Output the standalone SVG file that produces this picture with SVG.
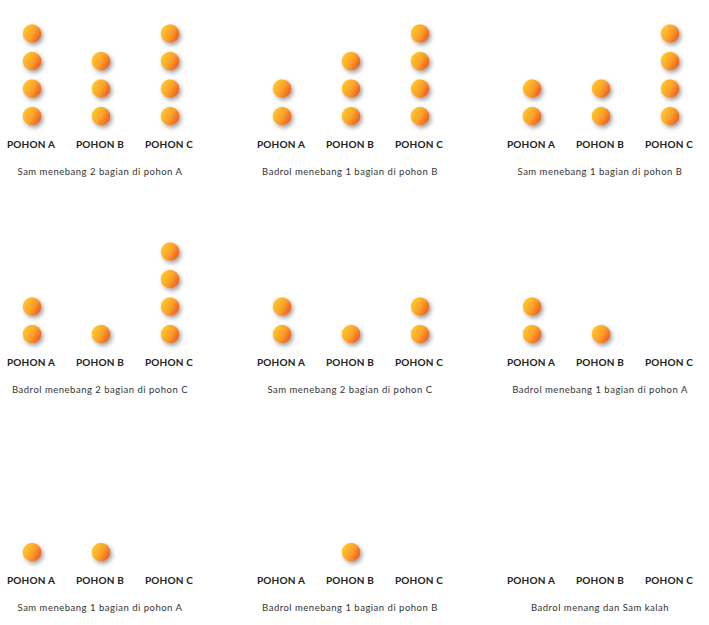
<svg xmlns="http://www.w3.org/2000/svg" xmlns:xlink="http://www.w3.org/1999/xlink" width="709" height="625" viewBox="0 0 709 625">
<defs>
<linearGradient id="g" x1="0.1" y1="0.25" x2="1" y2="0.75">
<stop offset="0" stop-color="#FFC62C"/>
<stop offset="0.5" stop-color="#FBA02A"/>
<stop offset="1" stop-color="#EE561F"/>
</linearGradient>
<filter id="sh" x="-50%" y="-50%" width="220%" height="220%">
<feDropShadow dx="2" dy="2.5" stdDeviation="2" flood-color="#555" flood-opacity="0.55"/>
</filter>
<circle id="b" r="9.3" fill="url(#g)" filter="url(#sh)"/>
<g id="labels">
<text class="lb" x="31" y="148">POHON A</text>
<text class="lb" x="100" y="148">POHON B</text>
<text class="lb" x="169" y="148">POHON C</text>
</g>
</defs>
<style>
.lb{font-family:"Lato","Liberation Sans",sans-serif;font-weight:700;font-size:10px;letter-spacing:0.2px;fill:#222;text-anchor:middle}
.cp{font-family:"Lato","Liberation Sans",sans-serif;font-size:9.5px;letter-spacing:0.5px;fill:#333;text-anchor:middle}
</style>
<rect width="709" height="625" fill="#fff"/>

<g id="panel1">
<use href="#b" x="32" y="33.5"/><use href="#b" x="32" y="61"/><use href="#b" x="32" y="88.5"/><use href="#b" x="32" y="116"/>
<use href="#b" x="101" y="61"/><use href="#b" x="101" y="88.5"/><use href="#b" x="101" y="116"/>
<use href="#b" x="170" y="33.5"/><use href="#b" x="170" y="61"/><use href="#b" x="170" y="88.5"/><use href="#b" x="170" y="116"/>
<use href="#labels"/>
<text class="cp" x="100" y="175">Sam menebang 2 bagian di pohon A</text>
</g>

<g id="panel2" transform="translate(250,0)">
<use href="#b" x="32" y="88.5"/><use href="#b" x="32" y="116"/>
<use href="#b" x="101" y="61"/><use href="#b" x="101" y="88.5"/><use href="#b" x="101" y="116"/>
<use href="#b" x="170" y="33.5"/><use href="#b" x="170" y="61"/><use href="#b" x="170" y="88.5"/><use href="#b" x="170" y="116"/>
<use href="#labels"/>
<text class="cp" x="100" y="175">Badrol menebang 1 bagian di pohon B</text>
</g>

<g id="panel3" transform="translate(500,0)">
<use href="#b" x="32" y="88.5"/><use href="#b" x="32" y="116"/>
<use href="#b" x="101" y="88.5"/><use href="#b" x="101" y="116"/>
<use href="#b" x="170" y="33.5"/><use href="#b" x="170" y="61"/><use href="#b" x="170" y="88.5"/><use href="#b" x="170" y="116"/>
<use href="#labels"/>
<text class="cp" x="100" y="175">Sam menebang 1 bagian di pohon B</text>
</g>

<g id="panel4" transform="translate(0,218)">
<use href="#b" x="32" y="88.5"/><use href="#b" x="32" y="116"/>
<use href="#b" x="101" y="116"/>
<use href="#b" x="170" y="33.5"/><use href="#b" x="170" y="61"/><use href="#b" x="170" y="88.5"/><use href="#b" x="170" y="116"/>
<use href="#labels"/>
<text class="cp" x="100" y="175">Badrol menebang 2 bagian di pohon C</text>
</g>

<g id="panel5" transform="translate(250,218)">
<use href="#b" x="32" y="88.5"/><use href="#b" x="32" y="116"/>
<use href="#b" x="101" y="116"/>
<use href="#b" x="170" y="88.5"/><use href="#b" x="170" y="116"/>
<use href="#labels"/>
<text class="cp" x="100" y="175">Sam menebang 2 bagian di pohon C</text>
</g>

<g id="panel6" transform="translate(500,218)">
<use href="#b" x="32" y="88.5"/><use href="#b" x="32" y="116"/>
<use href="#b" x="101" y="116"/>
<use href="#labels"/>
<text class="cp" x="100" y="175">Badrol menebang 1 bagian di pohon A</text>
</g>

<g id="panel7" transform="translate(0,436)">
<use href="#b" x="32" y="116"/>
<use href="#b" x="101" y="116"/>
<use href="#labels"/>
<text class="cp" x="100" y="175">Sam menebang 1 bagian di pohon A</text>
</g>

<g id="panel8" transform="translate(250,436)">
<use href="#b" x="101" y="116"/>
<use href="#labels"/>
<text class="cp" x="100" y="175">Badrol menebang 1 bagian di pohon B</text>
</g>

<g id="panel9" transform="translate(500,436)">
<use href="#labels"/>
<text class="cp" x="100" y="175">Badrol menang dan Sam kalah</text>
</g>

<g id="connectors"/>
</svg>
